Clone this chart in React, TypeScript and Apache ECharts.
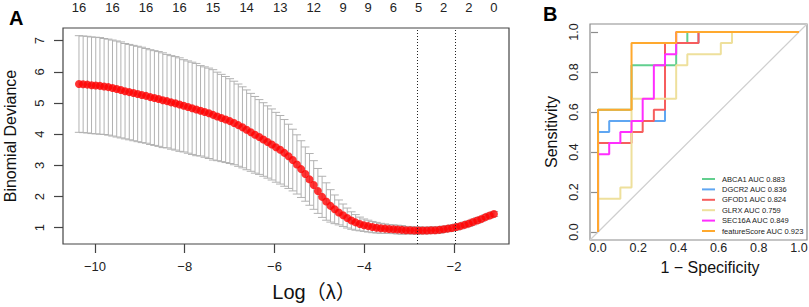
import React, { useEffect, useRef } from "react";
import * as echarts from "echarts";

// ---------- Panel A: cross-validated binomial deviance ----------
const logLambda = [
  -10.357, -10.264, -10.17, -10.077, -9.983, -9.89, -9.797, -9.703, -9.61, -9.516,
  -9.423, -9.33, -9.236, -9.143, -9.049, -8.956, -8.862, -8.769, -8.676, -8.582,
  -8.489, -8.395, -8.302, -8.209, -8.115, -8.022, -7.928, -7.835, -7.742, -7.648,
  -7.555, -7.461, -7.368, -7.275, -7.181, -7.088, -6.994, -6.901, -6.807, -6.714,
  -6.621, -6.527, -6.434, -6.34, -6.247, -6.154, -6.06, -5.967, -5.873, -5.78,
  -5.687, -5.593, -5.5, -5.406, -5.313, -5.219, -5.126, -5.033, -4.939, -4.846,
  -4.752, -4.659, -4.566, -4.472, -4.379, -4.285, -4.192, -4.099, -4.005, -3.912,
  -3.818, -3.725, -3.631, -3.538, -3.445, -3.351, -3.258, -3.164, -3.071, -2.978,
  -2.884, -2.791, -2.697, -2.604, -2.511, -2.417, -2.324, -2.23, -2.137, -2.044,
  -1.95, -1.857, -1.763, -1.67, -1.577, -1.483, -1.39, -1.296, -1.203, -1.109,
];
const cvMean = [
  5.61, 5.6, 5.59, 5.57, 5.56, 5.55, 5.53, 5.51, 5.48, 5.45,
  5.42, 5.38, 5.35, 5.32, 5.29, 5.26, 5.23, 5.19, 5.16, 5.13,
  5.09, 5.06, 5.02, 4.99, 4.95, 4.91, 4.87, 4.83, 4.79, 4.75,
  4.71, 4.67, 4.62, 4.57, 4.52, 4.47, 4.42, 4.36, 4.29, 4.22,
  4.14, 4.06, 3.98, 3.91, 3.83, 3.75, 3.67, 3.58, 3.5, 3.4,
  3.29, 3.17, 3.03, 2.88, 2.72, 2.55, 2.37, 2.18, 1.99, 1.84,
  1.7, 1.59, 1.49, 1.4, 1.31, 1.23, 1.17, 1.12, 1.08, 1.05,
  1.02, 1.0, 0.98, 0.97, 0.96, 0.95, 0.94, 0.93, 0.92, 0.92,
  0.91, 0.91, 0.91, 0.91, 0.92, 0.92, 0.93, 0.95, 0.97, 0.99,
  1.02, 1.05, 1.09, 1.13, 1.18, 1.23, 1.28, 1.34, 1.39, 1.44,
];
const cvSE = [
  1.55, 1.55, 1.55, 1.55, 1.55, 1.55, 1.54, 1.54, 1.54, 1.54,
  1.54, 1.53, 1.53, 1.53, 1.53, 1.53, 1.52, 1.52, 1.52, 1.52,
  1.52, 1.5, 1.5, 1.5, 1.5, 1.48, 1.48, 1.48, 1.48, 1.45,
  1.45, 1.45, 1.45, 1.42, 1.4, 1.38, 1.36, 1.34, 1.32, 1.3,
  1.28, 1.25, 1.23, 1.2, 1.18, 1.16, 1.14, 1.12, 1.1, 1.07,
  1.03, 0.99, 0.95, 0.91, 0.87, 0.83, 0.78, 0.72, 0.66, 0.6,
  0.52, 0.46, 0.4, 0.36, 0.32, 0.28, 0.25, 0.22, 0.2, 0.19,
  0.18, 0.17, 0.16, 0.15, 0.14, 0.14, 0.14, 0.14, 0.12, 0.12,
  0.12, 0.12, 0.11, 0.11, 0.11, 0.11, 0.11, 0.1, 0.1, 0.1,
  0.1, 0.09, 0.09, 0.09, 0.09, 0.09, 0.08, 0.08, 0.08, 0.08,
];
const topLabelPos = [
  -10.357, -9.61, -8.862, -8.115, -7.368, -6.621, -5.873, -5.126,
  -4.472, -3.912, -3.351, -2.791, -2.23, -1.67, -1.109,
];
const topLabels = ["16", "16", "16", "16", "15", "14", "13", "12", "9", "9", "6", "5", "2", "2", "0"];
const xTicksA = [-10, -8, -6, -4, -2];
const yTicksA = [1, 2, 3, 4, 5, 6, 7];
const lambdaMinLog = -2.809;
const lambda1seLog = -1.971;

// ---------- Panel B: ROC curves ----------
const rocGenes = ["ABCA1", "DGCR2", "GFOD1", "GLRX", "SEC16A", "featureScore"];
const rocAUC = ["0.883", "0.836", "0.824", "0.759", "0.849", "0.923"];
const rocColors = ["#62cf8e", "#5fa6f2", "#f65d5d", "#eee09c", "#ff2eff", "#ffa92e"];
const rocABCA1 = [[0, 0], [0, 0.6111], [0.1667, 0.6111], [0.1667, 0.8333], [0.3889, 0.8333], [0.3889, 0.9444], [0.4444, 0.9444], [0.4444, 1], [1, 1]];
const rocDGCR2 = [[0, 0], [0, 0.5], [0.0556, 0.5], [0.0556, 0.5556], [0.3333, 0.5556], [0.3333, 0.9444], [0.5, 0.9444], [0.5, 1], [1, 1]];
const rocGFOD1 = [[0, 0], [0, 0.4444], [0.1667, 0.4444], [0.1667, 0.5], [0.2222, 0.5], [0.2222, 0.5556], [0.2778, 0.5556], [0.2778, 0.6111], [0.3333, 0.6111], [0.3333, 0.9444], [0.5, 0.9444], [0.5, 1], [1, 1]];
const rocGLRX = [[0, 0], [0, 0.1667], [0.1111, 0.1667], [0.1111, 0.2222], [0.1667, 0.2222], [0.1667, 0.6667], [0.3889, 0.6667], [0.3889, 0.8333], [0.4444, 0.8333], [0.4444, 0.8889], [0.6111, 0.8889], [0.6111, 0.9444], [0.6667, 0.9444], [0.6667, 1], [1, 1]];
const rocSEC16A = [[0, 0], [0, 0.3889], [0.0556, 0.3889], [0.0556, 0.4444], [0.1111, 0.4444], [0.1111, 0.5], [0.1667, 0.5], [0.1667, 0.5556], [0.2222, 0.5556], [0.2222, 0.6667], [0.2778, 0.6667], [0.2778, 0.8333], [0.3333, 0.8333], [0.3333, 0.8889], [0.3889, 0.8889], [0.3889, 1], [1, 1]];
const rocFeatureScore = [[0, 0], [0, 0.6111], [0.1667, 0.6111], [0.1667, 0.9444], [0.3889, 0.9444], [0.3889, 1], [1, 1]];
const rocCurves = [rocABCA1, rocDGCR2, rocGFOD1, rocGLRX, rocSEC16A, rocFeatureScore];
const rocTicks = [0, 0.2, 0.4, 0.6, 0.8, 1];

const FONT = "'Liberation Sans', Arial, 'Noto Sans CJK SC', sans-serif";
const minus = (v: number) => (v < 0 ? "\u2212" + Math.abs(v) : String(v));

export default function App() {
  const ref = useRef<HTMLDivElement>(null);
  useEffect(() => {
    if (!ref.current) return;
    const chart = echarts.init(ref.current, null, { renderer: "svg" });
    const capHalf = 0.0925;
    const names = rocGenes.map((g, i) => `${g} AUC ${rocAUC[i]}`);
    const topLabelFor = (v: number) => {
      let best = 0;
      topLabelPos.forEach((p, i) => {
        if (Math.abs(p - v) < Math.abs(topLabelPos[best] - v)) best = i;
      });
      return topLabels[best];
    };
    const option: any = {
      animation: false,
      backgroundColor: "#ffffff",
      textStyle: { fontFamily: FONT },
      title: [
        { text: "A", left: 4, top: 3, textStyle: { fontSize: 20, fontWeight: "bold", color: "#000", fontFamily: FONT } },
        { text: "B", left: 538, top: -1, textStyle: { fontSize: 20, fontWeight: "bold", color: "#000", fontFamily: FONT } },
      ],
      grid: [
        { left: 63, top: 28, width: 446, height: 216, show: true, borderColor: "#444", borderWidth: 1.2, backgroundColor: "transparent", containLabel: false, outerBoundsMode: "none" },
        { left: 590, top: 24, width: 217, height: 216, show: true, borderColor: "#8c8c8c", borderWidth: 1.2, backgroundColor: "transparent", containLabel: false, outerBoundsMode: "none" },
      ],
      xAxis: [
        {
          gridIndex: 0, type: "value", min: -10.713, max: -0.774, position: "bottom",
          axisLine: { show: false }, splitLine: { show: false },
          axisTick: { show: true, length: 9, customValues: xTicksA, lineStyle: { color: "#444", width: 1.2 } },
          axisLabel: { customValues: xTicksA, formatter: minus, margin: 16, fontSize: 13, color: "#222", fontFamily: FONT },
          name: "Log\uFF08\u03BB\uFF09", nameLocation: "middle", nameGap: 38,
          nameTextStyle: { fontSize: 20, color: "#111", padding: [0, 0, 0, 56], fontFamily: FONT },
        },
        {
          gridIndex: 0, type: "value", min: -10.713, max: -0.774, position: "top",
          axisLine: { show: false }, splitLine: { show: false }, axisTick: { show: false },
          axisLabel: { customValues: topLabelPos, formatter: topLabelFor, margin: 14, fontSize: 13, color: "#222", fontFamily: FONT },
        },
        {
          gridIndex: 1, type: "value", min: -0.04, max: 1.04,
          axisLine: { show: false }, splitLine: { show: false }, axisTick: { show: false },
          axisLabel: { customValues: rocTicks, formatter: (v: number) => v.toFixed(1), margin: 2, fontSize: 12.5, color: "#222", fontFamily: FONT },
          name: "1 \u2212 Specificity", nameLocation: "middle", nameGap: 19,
          nameTextStyle: { fontSize: 16, color: "#111", padding: [0, 0, 0, 23], fontFamily: FONT },
        },
      ],
      yAxis: [
        {
          gridIndex: 0, type: "value", min: 0.477, max: 7.407,
          axisLine: { show: false }, splitLine: { show: false },
          axisTick: { show: true, length: 9, customValues: yTicksA, lineStyle: { color: "#444", width: 1.2 } },
          axisLabel: { customValues: yTicksA, rotate: 90, margin: 17, fontSize: 13, color: "#222", fontFamily: FONT },
          name: "Binomial Deviance", nameLocation: "middle", nameRotate: 90, nameGap: 45,
          nameTextStyle: { fontSize: 16, color: "#111", fontFamily: FONT },
        },
        {
          gridIndex: 1, type: "value", min: -0.04, max: 1.04,
          axisLine: { show: false }, splitLine: { show: false },
          axisTick: { show: true, length: 7, customValues: rocTicks, lineStyle: { color: "#8c8c8c", width: 1.2 } },
          axisLabel: { customValues: rocTicks, formatter: (v: number) => v.toFixed(1), rotate: 90, margin: 10, fontSize: 12.5, color: "#222", fontFamily: FONT },
          name: "Sensitivity", nameLocation: "middle", nameRotate: 90, nameGap: 31,
          nameTextStyle: { fontSize: 16, color: "#111", fontFamily: FONT },
        },
      ],
      legend: {
        data: names, orient: "vertical", left: 702, top: 174, icon: "rect",
        itemWidth: 13, itemHeight: 2, itemGap: 0.4, padding: 0,
        textStyle: { fontSize: 7.5, lineHeight: 10, color: "#222", fontFamily: FONT, padding: [0, 0, 0, 2] },
        selectedMode: false,
      },
      series: [
        {
          type: "custom", xAxisIndex: 0, yAxisIndex: 0, silent: true,
          encode: { x: 0, y: [1, 2] },
          data: logLambda.map((x, i) => [x, cvMean[i] - cvSE[i], cvMean[i] + cvSE[i]]),
          renderItem: (params: any, api: any) => {
            const x = api.value(0);
            const lo = api.coord([x, api.value(1)]);
            const hi = api.coord([x, api.value(2)]);
            const hw = api.size([capHalf, 0])[0];
            const style = { stroke: "#b2b2b2", lineWidth: 1 };
            return {
              type: "group",
              children: [
                { type: "line", shape: { x1: hi[0], y1: hi[1], x2: lo[0], y2: lo[1] }, style },
                { type: "line", shape: { x1: hi[0] - hw, y1: hi[1], x2: hi[0] + hw, y2: hi[1] }, style },
                { type: "line", shape: { x1: lo[0] - hw, y1: lo[1], x2: lo[0] + hw, y2: lo[1] }, style },
              ],
            };
          },
        },
        {
          type: "scatter", xAxisIndex: 0, yAxisIndex: 0, silent: true,
          symbolSize: 8, itemStyle: { color: "#ff0000" },
          data: logLambda.map((x, i) => [x, cvMean[i]]),
          markLine: {
            silent: true, symbol: "none", label: { show: false },
            lineStyle: { type: [1, 2], color: "#222", width: 1 },
            data: [{ xAxis: lambdaMinLog }, { xAxis: lambda1seLog }],
          },
        },
        {
          type: "line", xAxisIndex: 2, yAxisIndex: 1, silent: true, symbol: "none",
          lineStyle: { color: "#cfcfcf", width: 1.2 },
          data: [[-0.04, -0.04], [1.04, 1.04]],
        },
        ...rocCurves.map((c, i) => ({
          type: "line", name: names[i], xAxisIndex: 2, yAxisIndex: 1, silent: true,
          symbol: "none", showSymbol: false,
          lineStyle: { color: rocColors[i], width: 2 },
          itemStyle: { color: rocColors[i] },
          data: c,
        })),
      ],
    };
    chart.setOption(option);
    return () => chart.dispose();
  }, []);
  return (
    <div
      ref={ref}
      style={{ position: "fixed", left: 0, top: 0, width: 809, height: 307, background: "#fff" }}
    />
  );
}
